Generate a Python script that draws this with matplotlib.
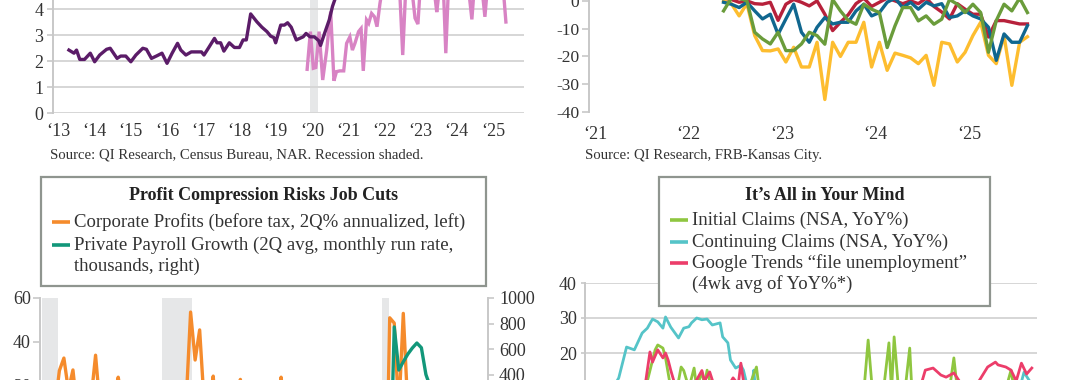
import matplotlib
matplotlib.use("Agg")
import matplotlib.pyplot as plt
import pandas as pd
from matplotlib.patches import Rectangle

plt.rcParams['font.family'] = ['Liberation Serif', 'DejaVu Serif']
plt.rcParams['axes.unicode_minus'] = False

# ---------------- data ----------------
# top left: months' supply style series (decimal years)
dark_t = [2013.29, 2013.43, 2013.50, 2013.59, 2013.72, 2013.88, 2014.00, 2014.14, 2014.33, 2014.43,
          2014.62, 2014.72, 2014.86, 2015.00, 2015.14, 2015.33, 2015.43, 2015.57, 2015.72, 2015.86,
          2016.00, 2016.14, 2016.29, 2016.38, 2016.52, 2016.67, 2016.86, 2016.95, 2017.02, 2017.14,
          2017.31, 2017.38, 2017.48, 2017.57, 2017.72, 2017.86, 2018.00, 2018.10, 2018.19, 2018.31,
          2018.48, 2018.62, 2018.76, 2018.86, 2018.95, 2019.00, 2019.14, 2019.24, 2019.33, 2019.43,
          2019.57, 2019.76, 2019.84, 2019.95, 2020.07, 2020.19, 2020.24, 2020.35, 2020.48, 2020.57,
          2020.72, 2020.85, 2021.00]
dark_v = [2.42, 2.30, 2.42, 2.06, 2.06, 2.30, 1.97, 2.23, 2.45, 2.49,
          2.10, 2.19, 2.19, 1.97, 2.23, 2.49, 2.45, 2.10, 2.20, 2.30,
          1.91, 2.30, 2.68, 2.42, 2.23, 2.35, 2.35, 2.35, 2.23, 2.49,
          2.87, 2.70, 2.70, 2.38, 2.70, 2.52, 2.52, 2.81, 2.81, 3.81,
          3.51, 3.30, 3.13, 2.96, 2.90, 2.70, 3.38, 3.38, 3.47, 3.30,
          2.81, 2.93, 3.06, 2.93, 2.93, 2.78, 2.60, 3.06, 3.58, 4.10,
          4.70, 5.30, 5.80]
pink_t = [2019.87, 2019.96, 2020.04, 2020.11, 2020.20, 2020.30, 2020.41, 2020.52, 2020.61, 2020.68,
          2020.77, 2020.88, 2020.96, 2021.05, 2021.12, 2021.19, 2021.29, 2021.36, 2021.42, 2021.51,
          2021.57, 2021.65, 2021.73, 2021.80, 2021.88, 2021.96, 2022.04, 2022.13, 2022.21, 2022.29,
          2022.37, 2022.43, 2022.51, 2022.60, 2022.68, 2022.76, 2022.85, 2022.93, 2023.01, 2023.09,
          2023.18, 2023.26, 2023.34, 2023.45, 2023.54, 2023.62, 2023.70, 2023.78, 2023.87, 2023.95,
          2024.03, 2024.12, 2024.20, 2024.28, 2024.42, 2024.50, 2024.59, 2024.67, 2024.78, 2024.86,
          2024.95, 2025.03, 2025.11, 2025.19, 2025.28, 2025.36]
pink_v = [1.68, 3.13, 1.72, 1.75, 3.13, 1.27, 2.42, 3.90, 1.24, 1.59,
          1.62, 1.62, 2.68, 2.93, 2.42, 2.68, 3.13, 3.25, 1.62, 3.58,
          3.45, 3.83, 3.70, 3.32, 4.20, 4.90, 5.20, 4.80, 5.30, 4.50,
          5.10, 4.60, 2.23, 5.00, 5.40, 4.80, 3.65, 3.42, 5.20, 5.00,
          5.50, 4.70, 5.20, 3.88, 5.00, 5.30, 2.30, 5.10, 4.90, 5.30,
          5.00, 4.70, 5.20, 5.40, 3.60, 5.10, 4.90, 5.20, 3.70, 5.00,
          5.30, 4.80, 5.10, 5.00, 4.90, 3.50]
recession_top = (2019.95, 2020.17)
top_left_years = list(range(2013, 2026))

# top right: Kansas City Fed survey, monthly May 2022 - Aug 2025
kc_months = pd.period_range('2022-05', periods=40, freq='M')
kc_yellow = [0, -1, -5.4, -1, -12.5, -17.9, -18, -17.3, -22, -16.7,
             -23.8, -23.8, -14.9, -35.5, -14.9, -20, -14.9, -14.9, -7.7, -23.8,
             -14.9, -25, -18.8, -19.6, -20.5, -22.6, -19.6, -30.4, -14.9, -15.5,
             -22, -18.5, -12.5, -7.7, -19.6, -22.6, -12.5, -30.4, -14.9, -12.9]
kc_red = [1, 0.5, -0.5, 0, -1, -1.2, -0.5, -7, -1.2, 0.5,
          -0.5, -1.8, 0, -4.8, -10.7, -7.7, -5, -1, 1, -2,
          -0.5, 1, 0, -1, 0, -1, 1, -2, -4, -6.5,
          -1, -3, -4.8, -4.8, -13, -7.1, -7.1, -7.7, -8.3, -8.3]
kc_blue = [-0.5, -1.2, -2.4, -0.5, -3.6, -6.5, -4.8, -12, -6.5, -1.2,
           -11.3, -14.9, -9.5, -6, -8.3, -7.7, -7.7, -3.6, -1.2, -5.4,
           -4.2, -0.5, 1, -2.4, -0.5, -3, -0.5, -1.8, -1, -6,
           -5.4, -3.6, -5.4, -6.5, -9.5, -21.4, -11.9, -14.9, -14.9, -8.9]
kc_green = [-3.6, 1, 1, 0, -11.3, -13.7, -15.5, -11.3, -17.9, -17.9,
            -15.5, -11.3, -12.5, -15.6, 0.5, -3.6, -7, -8.4, -1.2, -3,
            -4.2, -16.8, -9, -2.4, -2.4, -7.2, -5.4, -8.4, -6.6, 0.5,
            -1.2, -4.2, -1.2, -4.2, -18.5, -7.1, -1.2, -3.6, 1, -4.2]
top_right_years = list(range(2021, 2026))

# bottom left: quarterly 2001Q1 - 2025Q2
quarters = pd.period_range('2001Q1', '2025Q2', freq='Q')
profits = [-25, -20, -30, -5, 10, 27, 32.7, 18, 27.3, 8, 15, 12,
           14, 34, 10, 16, 8, 14, 24, 12, 10, 6, 14, -4,
           -2, 10, -12, -10, -18, -8, -25, -45, -10, 12, 53.6, 31.8,
           45.5, 12, 8, 24.5, -6, 8, 15, 10, 12, 23, 4, 2,
           6, 9, 4, 2, -8, 10, 24, 4, -2, -4, 2, -10,
           -4, 6, 10, 4, 2, 8, 6, 10, 12, 8, 4, 2,
           -2, 6, 4, 2, -30, -55, 51, 48.6, 8, 53, 10, 14,
           6, 10, 12, 2, 4, 0, 10, 8, 6, 8, 2, 4, -6, 2]
payrolls = [20, -40, -80, -150, -120, -60, -20, -10, -30, -20, 20, 60,
            120, 200, 150, 140, 170, 200, 190, 180, 190, 160, 130, 120,
            110, 90, 60, 60, 0, -80, -150, -400, -650, -600, -350, -200,
            -30, 100, 60, 100, 150, 170, 150, 170, 200, 180, 150, 190,
            200, 180, 190, 200, 210, 230, 240, 260, 230, 210, 220, 230,
            200, 180, 190, 180, 170, 180, 170, 190, 200, 210, 200, 190,
            180, 170, 160, 170, 150, -4000, -600, 773, 435, 500, 560, 608,
            647, 610, 400, 300, 260, 230, 200, 180, 170, 160, 150, 140, 120, 90]
recessions_bottom = [(2001.29, 2002.17), (2007.92, 2009.58), (2020.07, 2020.46)]

# bottom right: weekly claims, (week number, value)
cont_w = [8, 10, 13, 16, 19, 22, 24, 26, 28, 30, 31, 33, 36, 38, 40, 41, 43, 45, 47, 49,
          52, 53, 55, 56, 58, 60, 61, 62, 64, 65, 66, 69, 75, 83, 94, 106, 117, 129, 140, 152,
          163, 167, 169, 172]
cont_v = [5, 9, 12.9, 21.7, 20.9, 25.7, 27.1, 29.7, 28.9, 27.1, 30.3, 27.4, 24.3, 27.1, 27.5, 28.6, 30, 29.5, 29.7, 28,
          28.6, 24.6, 22.9, 18, 15.7, 16.5, 15.1, 12, 10, 15.1, 6, 2, 0, -1, 1, 2, 3, 2, 1, 3,
          6, 9, 14.5, 11]
init_w = [8, 15, 21, 24, 27, 28, 30, 31, 33, 35, 37, 38, 40, 42, 43, 45, 46, 47, 49, 52,
          56, 60, 63, 66, 68, 75, 83, 94, 104, 107, 109, 111, 114, 115, 117, 118, 119, 121, 123, 125,
          126, 131, 137, 140, 142, 144, 150, 156, 161, 164, 166, 169, 172]
init_v = [0, 5, 8, 12, 20.9, 22.3, 21.4, 18.6, 10, 8, 16, 15, 10, 15.7, 10, 14.6, 11, 15.1, 9, 8,
          6, 8, 10, 16, 4, 0, -2, 0, 2, 6, 23.7, 6, 8, 10, 22.9, 9, 24.6, 7, 8, 21.4,
          7, 5, 8, 8, 18.6, 5, 3, 4, 7, 15.1, 6, 9, 10]
goog_w = [8, 17, 23, 25, 26, 28, 30, 31, 32, 33, 35, 38, 42, 45, 46, 48, 50, 54, 57, 59,
          60, 61, 63, 71, 83, 98, 113, 125, 129, 131, 134, 137, 139, 142, 145, 150, 155, 158, 159, 162,
          164, 166, 168, 170, 172]
goog_v = [2, 6, 10, 20.3, 17.4, 20.9, 18.6, 20, 18, 15.1, 10, 12, 11, 15, 12, 14.6, 10, 9, 12.9, 11,
          17.1, 12, 4, 0, -1, 0, 1, 4, 10, 15.1, 15.7, 13.7, 13.1, 14.3, 11, 10, 16, 17.4, 16.6, 16,
          15.1, 12, 17.1, 14, 15.7]

# ---------------- style ----------------
W, H = 1080, 380
TEXT = '#333333'
GRID = '#d6d6d6'
SPINE = '#c8c8c8'
BAND = '#e6e7e8'
BOXEDGE = '#8f958f'

fig = plt.figure(figsize=(10.8, 3.8), dpi=100)


def box(l, t, r, b):
    # pixel box (origin top-left) -> figure fraction
    return [l / W, 1 - b / H, (r - l) / W, (b - t) / H]


def clean(ax):
    for s in ax.spines.values():
        s.set_visible(False)
    ax.tick_params(colors=SPINE, labelcolor=TEXT, labelsize=13, width=1.2)


def yr_labels(years):
    return ['\u2018' + str(y)[2:] for y in years]


# ---- top left ----
ax1 = fig.add_axes(box(53, -30, 524, 113))
clean(ax1)
ax1.set_xlim(2012.85, 2025.86)
ax1.set_ylim(0, 5.5)
ax1.set_yticks(range(0, 6))
ax1.grid(axis='y', color=GRID, lw=1.4)
ax1.set_axisbelow(True)
ax1.spines['left'].set_visible(True)
ax1.spines['left'].set_color(SPINE)
ax1.spines['left'].set_linewidth(1.4)
ax1.tick_params(axis='y', length=4, pad=3)
ax1.set_xticks(top_left_years)
ax1.set_xticklabels(yr_labels(top_left_years))
ax1.tick_params(axis='x', length=0, pad=7)
ax1.axvspan(*recession_top, color=BAND, lw=0, zorder=0)
ax1.plot(pink_t, pink_v, color='#d883c4', lw=2.4, solid_joinstyle='miter')
ax1.plot(dark_t, dark_v, color='#5b1c68', lw=2.4)
fig.text(50 / W, 1 - 155 / H, 'Source: QI Research, Census Bureau, NAR. Recession shaded.',
         fontsize=10.6, color=TEXT, va='center')

# ---- top right ----
kc_x = kc_months.year + (kc_months.month - 0.5) / 12
ax2 = fig.add_axes(box(589, -13, 1048, 112))
clean(ax2)
ax2.set_xlim(2020.936, 2025.845)
ax2.set_ylim(-40, 5)
ax2.set_yticks([0, -10, -20, -30, -40])
ax2.set_yticklabels(['0', '-10', '-20', '-30', '-40'])
ax2.tick_params(axis='y', labelsize=12.5)
ax2.spines['left'].set_visible(True)
ax2.spines['left'].set_color(SPINE)
ax2.spines['left'].set_linewidth(1.4)
ax2.spines['left'].set_bounds(-40, 5)
ax2.tick_params(axis='y', length=5, pad=2)
ax2.set_xticks(top_right_years)
ax2.set_xticklabels(yr_labels(top_right_years))
ax2.tick_params(axis='x', length=0, pad=10)
ax2.plot(kc_x, kc_yellow, color='#fdbd2f', lw=2.4)
ax2.plot(kc_x, kc_red, color='#b7213b', lw=2.4)
ax2.plot(kc_x, kc_blue, color='#10678f', lw=2.4)
ax2.plot(kc_x, kc_green, color='#6a9c3b', lw=2.4)
fig.text(585 / W, 1 - 155 / H, 'Source: QI Research, FRB-Kansas City.',
         fontsize=10.6, color=TEXT, va='center')

# ---- bottom left ----
q_x = quarters.year + (quarters.quarter - 1) / 4
ax3 = fig.add_axes(box(40, 298, 488, 562))
clean(ax3)
ax3.set_xlim(2001.18, 2025.93)
ax3.set_ylim(-60, 60)
ax3.set_yticks([60, 40, 20, 0, -20, -40, -60])
ax3.set_xticks([])
ax3.spines['left'].set_visible(True)
ax3.spines['left'].set_color(SPINE)
ax3.spines['left'].set_linewidth(1.4)
ax3.tick_params(axis='y', length=5, pad=1.5)
for a, b in recessions_bottom:
    ax3.axvspan(a, b, color=BAND, lw=0, zorder=0)
ax3.plot(q_x, profits, color='#f58b2c', lw=2.4)
ax3r = ax3.twinx()
clean(ax3r)
ax3r.set_ylim(-1070, 1000)
ax3r.set_yticks([1000, 800, 600, 400, 200, 0])
ax3r.spines['right'].set_visible(True)
ax3r.spines['right'].set_color(SPINE)
ax3r.spines['right'].set_linewidth(1.4)
ax3r.tick_params(axis='y', length=4, pad=4)
ax3r.plot(q_x, payrolls, color='#12977a', lw=2.4)

# ---- bottom right ----
ax4 = fig.add_axes(box(585, 283, 1037, 493))
clean(ax4)
ax4.set_xlim(0, 174)
ax4.set_ylim(-20, 40)
ax4.set_yticks([40, 30, 20, 10, 0, -10])
ax4.set_xticks([])
ax4.grid(axis='y', color=GRID, lw=1.4)
ax4.set_axisbelow(True)
ax4.spines['left'].set_visible(True)
ax4.spines['left'].set_color(SPINE)
ax4.spines['left'].set_linewidth(1.4)
ax4.tick_params(axis='y', length=3, pad=3)
ax4.plot(cont_w, cont_v, color='#55c4c8', lw=2.0)
ax4.plot(init_w, init_v, color='#8fc640', lw=2.0)
ax4.plot(goog_w, goog_v, color='#ec3d6a', lw=2.0)

# ---- legend boxes (pixel overlay) ----
ov = fig.add_axes([0, 0, 1, 1], zorder=10)
ov.set_xlim(0, W)
ov.set_ylim(H, 0)
ov.axis('off')

legends = [
    dict(rect=(41, 177, 486, 286), title='Profit Compression Risks Job Cuts',
         entries=[('#f58b2c', ['Corporate Profits (before tax, 2Q% annualized, left)']),
                  ('#12977a', ['Private Payroll Growth (2Q avg, monthly run rate,',
                               'thousands, right)'])],
         hx=52, ys=[222, 245]),
    dict(rect=(659, 177, 990, 306), title='It\u2019s All in Your Mind',
         entries=[('#8fc640', ['Initial Claims (NSA, YoY%)']),
                  ('#55c4c8', ['Continuing Claims (NSA, YoY%)']),
                  ('#ec3d6a', ['Google Trends \u201cfile unemployment\u201d',
                               '(4wk avg of YoY%*)'])],
         hx=670, ys=[220, 242, 263]),
]
LINE_STEP = 21
for lg in legends:
    l, t, r, b = lg['rect']
    ov.add_patch(Rectangle((l, t), r - l, b - t, fc='white', ec=BOXEDGE, lw=1.6))
    ov.text((l + r) / 2, t + 18, lg['title'], ha='center', va='center',
            fontsize=13, fontweight='bold', color='#222222')
    for (col, lines), y in zip(lg['entries'], lg['ys']):
        ov.plot([lg['hx'], lg['hx'] + 18], [y, y], color=col, lw=2.6, solid_capstyle='butt')
        for i, txt in enumerate(lines):
            ov.text(lg['hx'] + 22, y + i * LINE_STEP, txt, ha='left', va='center',
                    fontsize=13.5, color=TEXT)

fig.savefig('out.png', dpi=100)
